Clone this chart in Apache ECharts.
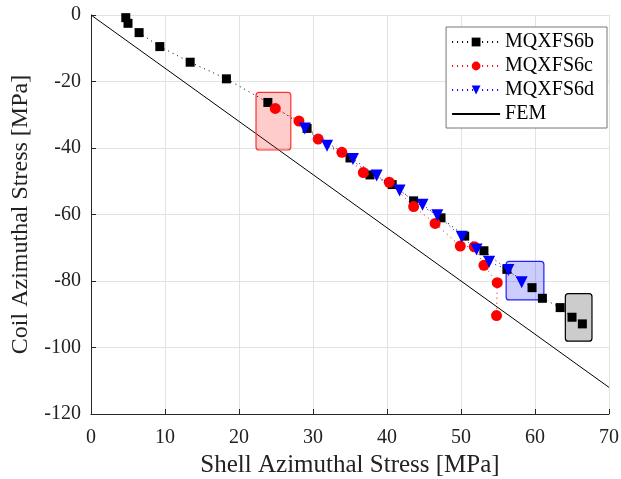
<!DOCTYPE html>
<html>
<head>
<meta charset="utf-8">
<script src="https://cdn.jsdelivr.net/npm/echarts@6/dist/echarts.min.js"></script>
<style>
html, body { margin: 0; padding: 0; background: #fff; }
#chart { width: 621px; height: 479px; }
</style>
</head>
<body>
<div id="chart"></div>
<script>
// measured values [shell, coil] in MPa
var mqxfs6b = [[4.7,-0.8],[5.0,-2.5],[6.5,-5.3],[9.3,-9.5],[13.4,-14.2],[18.3,-19.2],[23.9,-26.3],
    [29.2,-34.1],[35.0,-43.0],[37.7,-48.1],[40.7,-51.0],[43.6,-55.9],[47.3,-61.0],[50.5,-66.5],
    [53.1,-70.9],[56.2,-76.5],[59.6,-82.0],[61.0,-85.2],[63.4,-88.0],[65.0,-90.9],[66.4,-92.9]];
var mqxfs6c = [[24.9,-28.1],[28.1,-31.9],[30.7,-37.3],[33.9,-41.3],[36.8,-47.4],[40.3,-50.3],
    [43.6,-57.6],[46.5,-62.7],[49.9,-69.5],[51.8,-69.7],[53.1,-75.3],[54.9,-80.5],[54.8,-90.4]];
var mqxfs6d = [[28.9,-34.1],[31.9,-39.3],[35.4,-43.3],[38.6,-48.3],[41.7,-52.8],[44.8,-57.1],
    [46.8,-60.2],[50.1,-66.7],[52.1,-70.5],[53.8,-74.2],[56.4,-76.7],[58.2,-80.4]];
var fem = [[0,0],[70,-112]];
// highlight boxes: [x0, x1, y0, y1]
var boxes = [[22.3,27.0,-23.3,-40.6],[56.1,61.2,-74.1,-85.7],[64.1,67.7,-83.8,-98.1]];
var boxFill = ['rgba(255,0,0,0.2)','rgba(0,0,255,0.2)','rgba(0,0,0,0.2)'];
var boxStroke = ['#ff3030','#2020ff','#000000'];
var xTicks = [0,10,20,30,40,50,60,70];
var yTicks = [-120,-100,-80,-60,-40,-20,0];

var font = 'Liberation Serif';

var option = {
    backgroundColor: '#fff',
    animation: false,
    textStyle: { fontFamily: font },
    grid: { left: 91, right: 12, top: 15, bottom: 65, outerBoundsMode: 'none', containLabel: false },
    legend: {
        orient: 'vertical',
        right: 14,
        top: 27,
        backgroundColor: '#fff',
        borderColor: '#777',
        borderWidth: 1,
        borderRadius: 0,
        padding: [5, 13, 4, 5],
        itemGap: 4,
        itemWidth: 48,
        itemHeight: 11,
        textStyle: { fontFamily: font, fontSize: 20, lineHeight: 20, color: '#000' },
        data: ['MQXFS6b','MQXFS6c','MQXFS6d',{ name: 'FEM', itemStyle: { opacity: 0 } }]
    },
    xAxis: {
        type: 'value',
        min: xTicks[0], max: xTicks[xTicks.length - 1], interval: 10,
        name: 'Shell Azimuthal Stress [MPa]',
        nameLocation: 'middle',
        nameGap: 36,
        nameTextStyle: { fontFamily: font, fontSize: 25, color: '#222' },
        axisLine: { onZero: false, lineStyle: { color: '#262626', width: 1 } },
        axisTick: { inside: true, length: 5, lineStyle: { color: '#262626' } },
        axisLabel: { fontFamily: font, fontSize: 20, color: '#222', margin: 14 },
        splitLine: { show: true, lineStyle: { color: '#e2e2e2' } }
    },
    yAxis: {
        type: 'value',
        min: yTicks[0], max: yTicks[yTicks.length - 1], interval: 20,
        name: 'Coil Azimuthal Stress [MPa]',
        nameLocation: 'middle',
        nameGap: 58,
        nameTextStyle: { fontFamily: font, fontSize: 24, color: '#222' },
        axisLine: { show: true, onZero: false, lineStyle: { color: '#262626', width: 1 } },
        axisTick: { show: true, inside: true, length: 5, lineStyle: { color: '#262626' } },
        axisLabel: { fontFamily: font, fontSize: 20, color: '#222', margin: 10 },
        splitLine: { show: true, lineStyle: { color: '#e2e2e2' } }
    },
    series: [
        {
            name: 'FEM',
            type: 'line',
            data: fem,
            symbol: 'none',
            lineStyle: { color: '#000', width: 1 },
            itemStyle: { color: '#000' },
            z: 2
        },
        {
            name: 'boxes',
            type: 'custom',
            data: boxes,
            renderItem: function (params, api) {
                var p0 = api.coord([api.value(0), api.value(2)]);
                var p1 = api.coord([api.value(1), api.value(3)]);
                return {
                    type: 'rect',
                    shape: {
                        x: Math.min(p0[0], p1[0]), y: Math.min(p0[1], p1[1]),
                        width: Math.abs(p1[0] - p0[0]), height: Math.abs(p1[1] - p0[1]), r: 3
                    },
                    style: { fill: boxFill[params.dataIndex], stroke: boxStroke[params.dataIndex], lineWidth: 1.2 }
                };
            },
            z: 3
        },
        {
            name: 'MQXFS6b',
            type: 'line',
            data: mqxfs6b,
            symbol: 'rect',
            symbolSize: 9,
            lineStyle: { color: '#000', width: 1, type: [1, 4] },
            itemStyle: { color: '#000' },
            z: 4
        },
        {
            name: 'MQXFS6c',
            type: 'line',
            data: mqxfs6c,
            symbol: 'circle',
            symbolSize: 11,
            lineStyle: { color: '#ff0000', width: 1, type: [1, 4] },
            itemStyle: { color: '#ff0000' },
            z: 5
        },
        {
            name: 'MQXFS6d',
            type: 'line',
            data: mqxfs6d,
            symbol: 'triangle',
            symbolRotate: 180,
            symbolSize: 12,
            lineStyle: { color: '#0000ff', width: 1, type: [1, 4] },
            itemStyle: { color: '#0000ff' },
            z: 6
        }
    ]
};

var chart = echarts.init(document.getElementById('chart'));
chart.setOption(option);
</script>
</body>
</html>
